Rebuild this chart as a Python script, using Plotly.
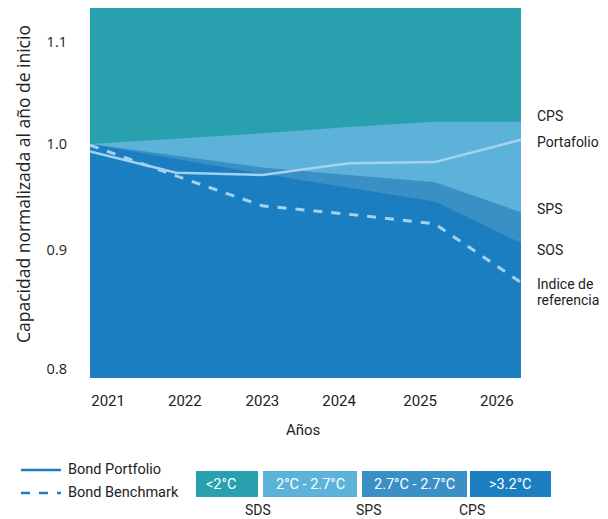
import plotly.graph_objects as go

years = [2021, 2022, 2023, 2024, 2025, 2026]
cps_upper = [1.000, 1.005, 1.010, 1.016, 1.021, 1.021]
sps_upper = [1.000, 0.989, 0.978, 0.971, 0.964, 0.936]
sos_upper = [1.000, 0.986, 0.972, 0.959, 0.946, 0.907]
benchmark = [0.999, 0.970, 0.942, 0.934, 0.925, 0.870]
portfolio = [0.993, 0.973, 0.971, 0.982, 0.983, 1.004]

x_tick_labels = ["2021", "2022", "2023", "2024", "2025", "2026"]
x_tick_pos = [2021.21, 2022.10, 2023.00, 2023.89, 2024.83, 2025.72]
y_tick_labels = ["0.8", "0.9", "1.0", "1.1"]
y_tick_pos = [0.789, 0.9005, 1.0, 1.096]

right_labels = ["CPS", "Portafolio", "SPS", "SOS", "Indice de", "referencia"]
right_label_y = [116, 142, 209, 250, 284, 300]

legend_boxes = ["<2°C", "2°C - 2.7°C", "2.7°C - 2.7°C", ">3.2°C"]
scenario_labels = ["SDS", "SPS", "CPS"]

TEAL = "#28a0ae"
LIGHT = "#5db2da"
MID = "#3a8fc4"
DARK = "#1b7ec1"
LINE = "#a3d2ef"
TXT = "#222222"
FONT = "Roboto, 'Noto Sans', 'DejaVu Sans', sans-serif"

OFF = 8  # page body margin offset
W, H = 608 - OFF, 519 - OFF
L, R, T, B = 90, 521, 8, 378  # plot area in page pixels


def px(xp):
    return (xp - L) / (R - L)


def py(yp):
    return (B - yp) / (B - T)


fig = go.Figure()
fig.add_trace(go.Scatter(x=years, y=cps_upper, fill="tozeroy", fillcolor=LIGHT,
                         mode="lines", line=dict(width=0, color=LIGHT), hoverinfo="skip"))
fig.add_trace(go.Scatter(x=years, y=sps_upper, fill="tozeroy", fillcolor=MID,
                         mode="lines", line=dict(width=0, color=MID), hoverinfo="skip"))
fig.add_trace(go.Scatter(x=years, y=sos_upper, fill="tozeroy", fillcolor=DARK,
                         mode="lines", line=dict(width=0, color=DARK), hoverinfo="skip"))
fig.add_trace(go.Scatter(x=years, y=benchmark, mode="lines",
                         line=dict(color=LINE, width=3, dash="dash")))
fig.add_trace(go.Scatter(x=years, y=portfolio, mode="lines",
                         line=dict(color=LINE, width=2.5)))

ann = []


def add_text(text, xp, yp, size=14.5, color=TXT, xanchor="center", family=FONT, angle=0):
    ann.append(dict(text=text, x=px(xp), y=py(yp), xref="paper", yref="paper",
                    xanchor=xanchor, yanchor="middle", align="left", showarrow=False,
                    textangle=angle, font=dict(family=family, size=size, color=color)))


add_text("Años", 303, 430, size=15)
add_text("Capacidad normalizada al año de inicio", 23, 184, size=17.5,
         family="Open Sans", angle=-90)
for lab, yp in zip(right_labels, right_label_y):
    add_text(lab, 535, yp, size=14, xanchor="left")

shapes = []
shapes.append(dict(type="line", xref="paper", yref="paper", x0=px(21), x1=px(61),
                   y0=py(470), y1=py(470), line=dict(color=DARK, width=2.5)))
shapes.append(dict(type="line", xref="paper", yref="paper", x0=px(21), x1=px(61),
                   y0=py(493), y1=py(493), line=dict(color=DARK, width=2.5, dash="dash")))
add_text("Bond Portfolio", 66, 469, xanchor="left")
add_text("Bond Benchmark", 66, 492, xanchor="left")

box_x = [(196, 258), (263, 357), (362, 467), (470, 551)]
box_colors = [TEAL, LIGHT, MID, DARK]
for (x0, x1), col, lab in zip(box_x, box_colors, legend_boxes):
    shapes.append(dict(type="rect", xref="paper", yref="paper", x0=px(x0), x1=px(x1),
                       y0=py(497), y1=py(471), fillcolor=col, line=dict(width=0)))
    first = lab == "<2°C"
    add_text(lab, 204 if first else (x0 + x1) / 2, 484, color="white",
             xanchor="left" if first else "center")
for lab, xc in zip(scenario_labels, [258, 368, 472]):
    add_text(lab, xc, 509.5, size=14)

fig.update_layout(
    width=W, height=H,
    margin=dict(l=L - OFF, r=(W + OFF) - R, t=T - OFF, b=(H + OFF) - B, pad=0, autoexpand=False),
    paper_bgcolor="white",
    plot_bgcolor=TEAL,
    showlegend=False,
    annotations=ann,
    shapes=shapes,
    xaxis=dict(range=[2021, 2026], tickvals=x_tick_pos, ticktext=x_tick_labels,
               showgrid=False, zeroline=False, showline=False, ticks="",
               ticklabelstandoff=12,
               tickfont=dict(family=FONT, size=15, color=TXT)),
    yaxis=dict(range=[0.7803, 1.1277], tickvals=y_tick_pos, ticktext=y_tick_labels,
               showgrid=False, zeroline=False, showline=False, ticks="",
               ticklabelstandoff=22,
               tickfont=dict(family="Open Sans", size=14.5, color=TXT)),
)

fig.write_html("out.html")
